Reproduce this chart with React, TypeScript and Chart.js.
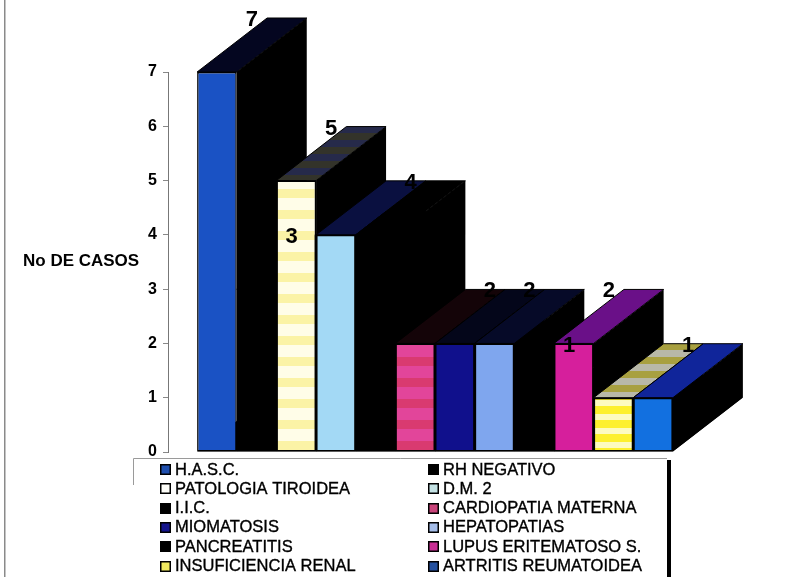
import React, { useEffect, useRef } from "react";
import { Chart, registerables } from "chart.js";

Chart.register(...registerables);

const seriesNames = [
  "H.A.S.C.", "RH NEGATIVO", "PATOLOGIA TIROIDEA", "D.M. 2", "I.I.C.", "CARDIOPATIA MATERNA",
  "MIOMATOSIS", "HEPATOPATIAS", "PANCREATITIS", "LUPUS ERITEMATOSO S.", "INSUFICIENCIA RENAL", "ARTRITIS REUMATOIDEA",
];
const seriesValues = [7, 3, 5, 4, 4, 2, 2, 2, 1, 2, 1, 1];
const frontA = ["#1a52c4", "#000000", "#fffde8", "#a3d9f5", "#000000", "#e2459a", "#10108c", "#7fa6ee", "#000000", "#d61f9c", "#fdfbc0", "#1270e0"];
const frontB = ["#1a52c4", "#000000", "#fbf3a6", "#a3d9f5", "#000000", "#d93a70", "#10108c", "#7fa6ee", "#000000", "#d61f9c", "#fdf02e", "#1270e0"];
const topA = ["#040620", "#000000", "#33332a", "#0a1040", "#000000", "#140408", "#04061a", "#060a28", "#000000", "#6a1088", "#a8a040", "#10259a"];
const topB = ["#040620", "#000000", "#262a4a", "#0a1040", "#000000", "#140408", "#04061a", "#060a28", "#000000", "#6a1088", "#b8b8a8", "#10259a"];
const swatches = ["#1f4fae", "#000000", "#fdfdf8", "#c4e2e4", "#000000", "#c9447a", "#14148c", "#a4bce8", "#000000", "#c92e94", "#f0ea60", "#24509e"];
const yTicks = ["0", "1", "2", "3", "4", "5", "6", "7"];
const axisTitle = "No DE CASOS";

const DEPTH_X = 70;
const DEPTH_Y = 54;

function stripes(a: string, b: string, period: number, bandB: number) {
  if (a === b) return a;
  const c = document.createElement("canvas");
  c.width = 4;
  c.height = period;
  const g = c.getContext("2d")!;
  g.fillStyle = a;
  g.fillRect(0, 0, 4, period);
  g.fillStyle = b;
  g.fillRect(0, 0, 4, bandB);
  return g.createPattern(c, "repeat")!;
}

function drawDepth(chart: any, i: number) {
  const ctx = chart.ctx;
  const bar = chart.getDatasetMeta(i).data[0];
  const left = bar.x - bar.width / 2;
  const right = bar.x + bar.width / 2;
  const top = bar.y;
  const base = bar.base;
  ctx.save();
  ctx.fillStyle = "#000000";
  ctx.beginPath();
  ctx.moveTo(right, top);
  ctx.lineTo(right + DEPTH_X, top - DEPTH_Y);
  ctx.lineTo(right + DEPTH_X, base - DEPTH_Y);
  ctx.lineTo(right, base);
  ctx.closePath();
  ctx.fill();
  ctx.fillStyle = stripes(topA[i], topB[i], 14, 7);
  ctx.strokeStyle = "#000000";
  ctx.beginPath();
  ctx.moveTo(left, top);
  ctx.lineTo(right, top);
  ctx.lineTo(right + DEPTH_X, top - DEPTH_Y);
  ctx.lineTo(left + DEPTH_X, top - DEPTH_Y);
  ctx.closePath();
  ctx.fill();
  ctx.stroke();
  ctx.restore();
}

function drawFloor(chart: any) {
  const ctx = chart.ctx;
  const n = chart.data.datasets.length;
  const first = chart.getDatasetMeta(0).data[0];
  const last = chart.getDatasetMeta(n - 1).data[0];
  const left = first.x - first.width / 2;
  const right = last.x + last.width / 2;
  const base = first.base;
  ctx.save();
  ctx.fillStyle = "#000000";
  ctx.beginPath();
  ctx.moveTo(left, base);
  ctx.lineTo(right, base);
  ctx.lineTo(right + DEPTH_X, base - DEPTH_Y);
  ctx.lineTo(left + DEPTH_X, base - DEPTH_Y);
  ctx.closePath();
  ctx.fill();
  ctx.restore();
}

const depthPlugin = {
  id: "depth",
  beforeDraw(chart: any) {
    // scanned page edge at the left
    const ctx = chart.ctx;
    ctx.save();
    ctx.fillStyle = "#8a8a8a";
    ctx.fillRect(4, 0, 1.5, 577);
    ctx.restore();
  },
  beforeDatasetsDraw(chart: any) {
    drawFloor(chart);
    // painter's order: left to right, every bar's front covers its neighbour's side
    chart.data.datasets.forEach((_: any, i: number) => {
      drawDepth(chart, i);
      chart.getDatasetMeta(i).controller.draw();
    });
  },
  beforeDatasetDraw() {
    return false;
  },
  afterDatasetsDraw(chart: any) {
    const ctx = chart.ctx;
    ctx.save();
    ctx.fillStyle = "#000000";
    ctx.font = "bold 22px 'Liberation Sans'";
    ctx.textAlign = "center";
    ctx.textBaseline = "middle";
    chart.data.datasets.forEach((ds: any, i: number) => {
      const bar = chart.getDatasetMeta(i).data[0];
      ctx.fillText(String(ds.data[0]), bar.x + 35, bar.y - 52);
    });

    // axis title
    ctx.font = "bold 17px 'Liberation Sans'";
    ctx.textAlign = "left";
    ctx.fillText(axisTitle, 23, 261);

    // legend
    ctx.fillStyle = "#ffffff";
    ctx.fillRect(133, 458, 535, 119);
    ctx.strokeStyle = "#9a9a9a";
    ctx.lineWidth = 1;
    ctx.beginPath();
    ctx.moveTo(133.5, 485);
    ctx.lineTo(133.5, 458.5);
    ctx.lineTo(667, 458.5);
    ctx.stroke();
    ctx.fillStyle = "#000000";
    ctx.fillRect(667, 460, 4, 117);
    ctx.font = "16.5px 'Liberation Sans'";
    seriesNames.forEach((name, i) => {
      const col = i % 2;
      const row = Math.floor(i / 2);
      const sx = col === 0 ? 160 : 428;
      const cy = 469.5 + row * 19.3;
      const sy = Math.round(cy - 5.5);
      ctx.fillStyle = swatches[i];
      ctx.fillRect(sx, sy, 11, 11);
      ctx.strokeStyle = "#000000";
      ctx.lineWidth = 1.5;
      ctx.strokeRect(sx + 0.75, sy + 0.75, 9.5, 9.5);
      ctx.fillStyle = "#000000";
      ctx.fillText(name, sx + 15, cy + 0.5);
      ctx.lineWidth = 0.35;
      ctx.strokeText(name, sx + 15, cy + 0.5);
    });
    ctx.restore();
  },
};

export default function App() {
  const ref = useRef<HTMLCanvasElement>(null);
  useEffect(() => {
    const chart = new Chart(ref.current!, {
      type: "bar",
      data: {
        labels: [""],
        datasets: seriesNames.map((label, i) => ({
          label,
          data: [seriesValues[i]],
          backgroundColor: stripes(frontA[i], frontB[i], i === 10 ? 14 : 21, i === 10 ? 8 : 9),
          borderColor: "#000000",
          borderWidth: 1.5,
          borderSkipped: false,
        })),
      },
      plugins: [depthPlugin],
      options: {
        animation: false,
        responsive: false,
        devicePixelRatio: 1,
        layout: { padding: { left: 0, right: 84, top: 72, bottom: 125 } },
        plugins: { legend: { display: false }, tooltip: { enabled: false } },
        datasets: { bar: { categoryPercentage: 0.891, barPercentage: 1 } },
        scales: {
          x: { display: false },
          y: {
            min: 0,
            max: 7,
            afterFit(scale: any) {
              scale.width = 168;
            },
            border: { color: "#777777" },
            grid: { drawOnChartArea: false, drawTicks: true, tickLength: 5, color: "#888888" },
            ticks: {
              stepSize: 1,
              padding: 6,
              color: "#000000",
              font: { family: "'Liberation Sans'", size: 16, weight: "bold" },
              callback: (v: any) => yTicks[Number(v)],
            },
          },
        },
      },
    } as any);
    return () => chart.destroy();
  }, []);
  return (
    <canvas
      ref={ref}
      width={786}
      height={577}
      style={{ position: "absolute", left: 0, top: 0, width: 786, height: 577, background: "#ffffff" }}
    />
  );
}
